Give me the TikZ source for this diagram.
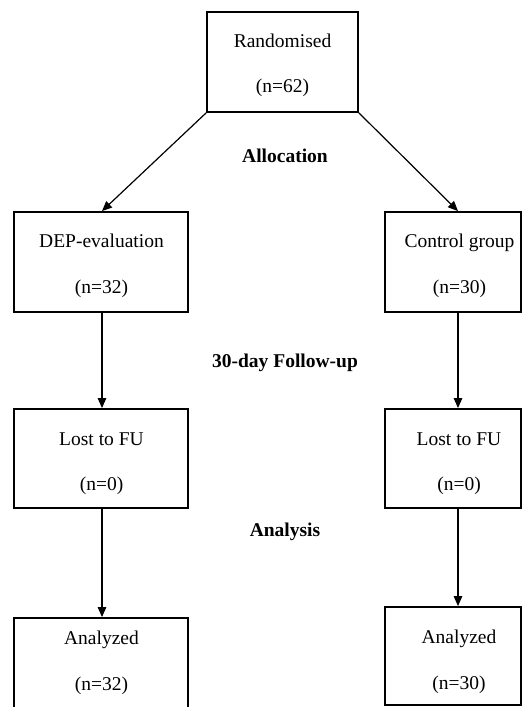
\documentclass[tikz,border=0pt]{standalone}
\usepackage{fontspec}
\setmainfont{Liberation Serif}
\usetikzlibrary{arrows.meta}
\tikzset{
  boxnode/.style={draw, rectangle, line width=1.8pt, inner sep=0pt, minimum width=#1, minimum height=100pt},
  boxnode/.default=174pt,
  txt/.style={anchor=base, inner sep=0pt, font=\fontsize{19.5pt}{23pt}\selectfont},
  head/.style={anchor=base, inner sep=0pt, font=\fontsize{19.5pt}{23pt}\selectfont\bfseries},
  arr/.style={line width=1.2pt, -{Triangle[length=10pt,width=8.5pt]}},
}
\begin{document}
\begin{tikzpicture}[x=1pt, y={(0pt,-1pt)}]
\useasboundingbox (0,0) rectangle (523,707);
\clip (0,0) rectangle (523,707);
% boxes
\node[boxnode=151pt] (rand) at (282.5,62) {};
\node[boxnode] (dep) at (101,262) {};
\node[boxnode=136pt] (ctrl) at (453,262) {};
\node[boxnode, minimum height=99pt] (lost1) at (101,458.5) {};
\node[boxnode=136pt, minimum height=99pt] (lost2) at (453,458.5) {};
\node[boxnode] (an1) at (101,668) {};
\node[boxnode=136pt, minimum height=98pt] (an2) at (453,656) {};
% texts
\node[txt] (t1) at (282.5,47) {Randomised};
\node[txt] (t2) at (282.5,92) {(n=62)};
\node[txt] (t3) at (101.5,247) {DEP-evaluation};
\node[txt] (t4) at (101.5,293) {(n=32)};
\node[txt] (t5) at (459.5,247) {Control group};
\node[txt] (t6) at (459.5,293) {(n=30)};
\node[txt] (t7) at (101.5,445) {Lost to FU};
\node[txt] (t8) at (101.5,490) {(n=0)};
\node[txt] (t9) at (459,445) {Lost to FU};
\node[txt] (t10) at (459,490) {(n=0)};
\node[txt] (t11) at (101.5,644) {Analyzed};
\node[txt] (t12) at (101.5,690) {(n=32)};
\node[txt] (t13) at (459,643) {Analyzed};
\node[txt] (t14) at (459,689) {(n=30)};
% headings
\node[head] (h1) at (285,162) {Allocation};
\node[head] (h2) at (285,367) {30-day Follow-up};
\node[head] (h3) at (285,536) {Analysis};
% connectors
\draw[arr] (rand.south west) -- ([xshift=1pt]dep.north);
\draw[arr] (rand.south east) -- ([xshift=5pt]ctrl.north);
\draw[arr] ([xshift=1pt]dep.south) -- ([xshift=1pt]lost1.north);
\draw[arr] ([xshift=1pt]lost1.south) -- ([xshift=1pt]an1.north);
\draw[arr] ([xshift=5pt]ctrl.south) -- ([xshift=5pt]lost2.north);
\draw[arr] ([xshift=5pt]lost2.south) -- ([xshift=5pt]an2.north);
\end{tikzpicture}
\end{document}
